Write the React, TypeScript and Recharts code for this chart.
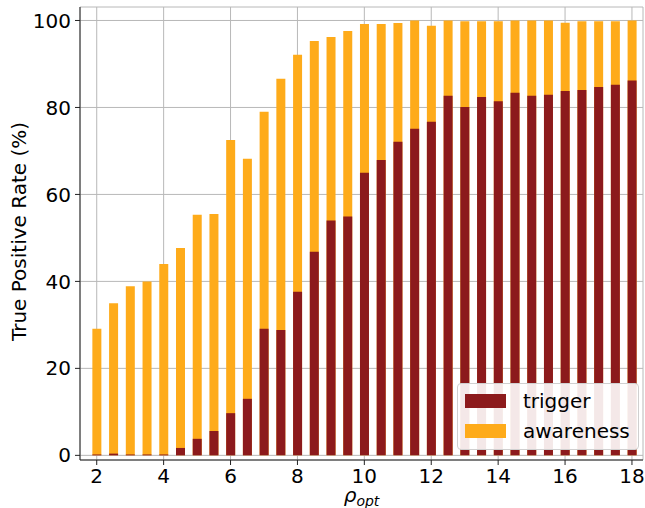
import { Bar, BarChart, CartesianGrid, Label, Legend, XAxis, YAxis } from 'recharts';

const rhoOpt = [2, 2.5, 3, 3.5, 4, 4.5, 5, 5.5, 6, 6.5, 7, 7.5, 8, 8.5, 9, 9.5, 10, 10.5, 11, 11.5, 12, 12.5, 13, 13.5, 14, 14.5, 15, 15.5, 16, 16.5, 17, 17.5, 18];
const trigger = [0.2, 0.4, 0.2, 0.2, 0.2, 1.7, 3.8, 5.6, 9.7, 13.0, 29.1, 28.8, 37.6, 46.8, 54.0, 54.9, 65.0, 67.9, 72.1, 75.1, 76.7, 82.7, 80.1, 82.4, 81.4, 83.4, 82.7, 82.9, 83.8, 84.0, 84.7, 85.2, 86.2];
const awareness = [29.1, 35.0, 38.9, 40.0, 44.0, 47.7, 55.3, 55.5, 72.5, 68.2, 79.0, 86.6, 92.1, 95.3, 96.2, 97.6, 99.2, 99.2, 99.4, 100, 98.8, 100, 99.8, 99.8, 99.8, 100, 100, 100, 99.5, 99.8, 99.8, 99.8, 100];
const xTicks = [2, 4, 6, 8, 10, 12, 14, 16, 18];
const yTicks = [0, 20, 40, 60, 80, 100];

const TRIGGER_COLOR = '#8c1a1c';
const AWARE_COLOR = '#feab1a';

const data = rhoOpt.map((r, i) => ({ rho: r, trigger: trigger[i], awareness: awareness[i] }));

const tickStyle = { fontSize: 20, fill: '#000' };

function LegendBox() {
    const items = [
        { name: 'trigger', color: TRIGGER_COLOR },
        { name: 'awareness', color: AWARE_COLOR },
    ];
    return (
        <div style={{ width: 182, height: 67, border: '1px solid #d0d0d0', borderRadius: 4, background: 'rgba(255,255,255,0.9)', boxSizing: 'border-box', padding: '2px 0 0 7px' }}>
            {items.map((it) => (
                <div key={it.name} style={{ display: 'flex', alignItems: 'center', height: 30 }}>
                    <div style={{ width: 41, height: 14, background: it.color, marginRight: 17 }} />
                    <span style={{ fontSize: 20, color: '#000', lineHeight: '30px' }}>{it.name}</span>
                </div>
            ))}
        </div>
    );
}

export default function App() {
    return (
        <div style={{ position: 'absolute', left: 0, top: 0, width: 645, height: 508, background: '#fff', fontFamily: '"DejaVu Sans", sans-serif' }}>
            <BarChart
                width={645}
                height={508}
                data={data}
                barSize={9}
                barGap={-9}
                margin={{ top: 7, right: 2, bottom: 0, left: 10 }}
            >
                <CartesianGrid stroke="#b8b8b8" strokeWidth={1} />
                <XAxis
                    dataKey="rho"
                    type="number"
                    domain={[1.5, 18.33]}
                    ticks={xTicks}
                    allowDataOverflow
                    height={48}
                    tick={tickStyle}
                    tickSize={5}
                    tickMargin={4}
                    stroke="#222"
                >
                    <Label
                        content={(props: any) => {
                            const vb = props.viewBox;
                            return (
                                <text x={vb.x + vb.width / 2} y={vb.y + 42} textAnchor="middle" fill="#000" fontStyle="italic">
                                    <tspan fontSize={20}>ρ</tspan>
                                    <tspan fontSize={14} dy={4}>opt</tspan>
                                </text>
                            );
                        }}
                    />
                </XAxis>
                <XAxis xAxisId="top" orientation="top" type="number" domain={[1.5, 18.33]} height={0} tick={false} tickLine={false} stroke="#222" />
                <YAxis
                    type="number"
                    domain={[-1.07, 103.1]}
                    ticks={yTicks}
                    allowDataOverflow
                    width={70}
                    tick={tickStyle}
                    tickSize={5}
                    tickMargin={4}
                    stroke="#222"
                >
                    <Label
                        content={(props: any) => {
                            const vb = props.viewBox;
                            const cx = 19;
                            const cy = vb.y + vb.height / 2 - 2;
                            return (
                                <text x={cx} y={cy} transform={`rotate(-90 ${cx} ${cy})`} textAnchor="middle" dominantBaseline="central" fontSize={20} fill="#000">
                                    True Positive Rate (%)
                                </text>
                            );
                        }}
                    />
                </YAxis>
                <YAxis yAxisId="right" orientation="right" width={0} tick={false} tickLine={false} stroke="#222" />
                <Legend
                    layout="horizontal"
                    align="center"
                    verticalAlign="middle"
                    wrapperStyle={{ left: 457, top: 383, width: 'auto' }}
                    content={() => <LegendBox />}
                />
                <Bar dataKey="awareness" fill={AWARE_COLOR} isAnimationActive={false} />
                <Bar dataKey="trigger" fill={TRIGGER_COLOR} isAnimationActive={false} />
            </BarChart>
        </div>
    );
}
